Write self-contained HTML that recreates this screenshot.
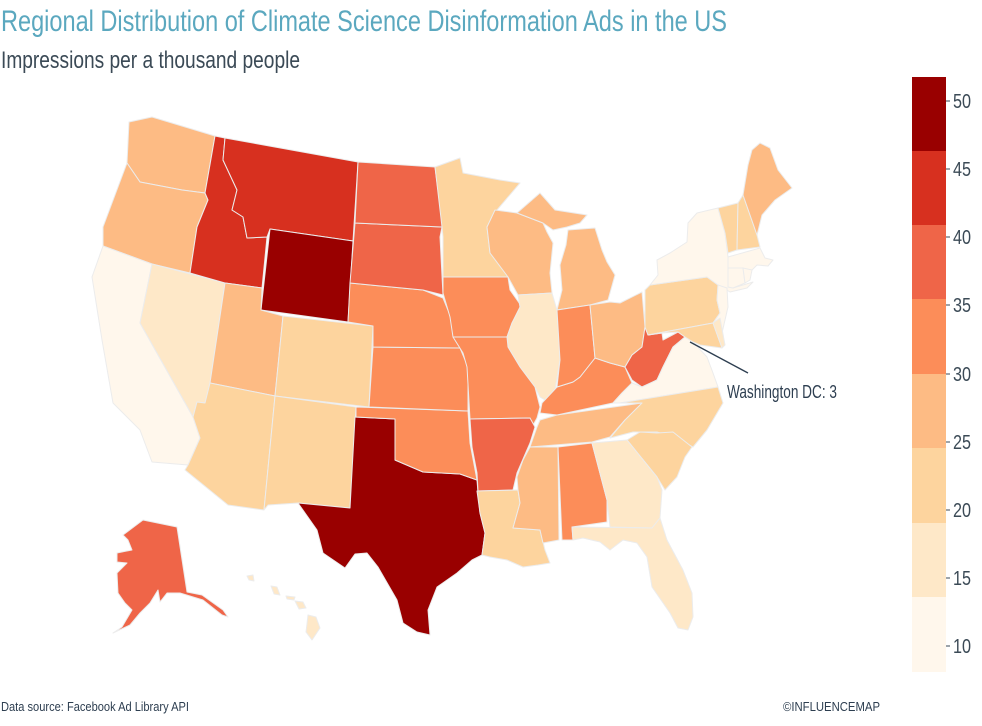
<!DOCTYPE html>
<html><head><meta charset="utf-8"><style>
html,body{margin:0;padding:0;background:#fff;}
svg{display:block;font-family:"Liberation Sans Narrow","Liberation Sans",sans-serif;}
</style></head><body>
<svg width="982" height="726" viewBox="0 0 982 726" xmlns="http://www.w3.org/2000/svg">
<text x="1" y="31" font-size="30" fill="#5ba8bf" textLength="726" lengthAdjust="spacingAndGlyphs">Regional Distribution of Climate Science Disinformation Ads in the US</text>
<text x="1" y="68" font-size="24" fill="#3b4a56" textLength="299" lengthAdjust="spacingAndGlyphs">Impressions per a thousand people</text>

<g stroke="#ececec" stroke-width="1" stroke-linejoin="round">
<polygon fill="#fdbb84" points="129,122 152,117 215,136 205,193 182,190 140,182 127,163"/>
<polygon fill="#fdbb84" points="127,163 140,182 182,190 205,193 208,200 197,227 190,273 152,264 103,246 103,227"/>
<polygon fill="#fff7ec" points="103,246 152,264 140,323 193,417 200,438 188,465 152,462 140,430 113,403 102,340 92,277"/>
<polygon fill="#fee8c8" points="152,264 225,283 210,383 205,403 197,402 193,417 140,323"/>
<polygon fill="#d7301f" points="215,136 225,138 223,160 237,190 232,210 243,217 247,238 267,237 262,288 225,283 190,273 197,227 208,200 205,193"/>
<polygon fill="#d7301f" points="225,138 358,162 353,241 270,229 267,237 247,238 243,217 232,210 237,190 223,160"/>
<polygon fill="#990000" points="270,229 353,241 348,322 261,310"/>
<polygon fill="#fdbb84" points="225,283 262,288 261,310 283,316 275,396 210,383"/>
<polygon fill="#fdd49e" points="283,316 373,326 369,407 275,396"/>
<polygon fill="#fdd49e" points="210,383 275,396 264,510 228,505 185,470 188,465 200,438 193,417 197,402 205,403"/>
<polygon fill="#fdd49e" points="275,396 356,407 350,508 298,503 268,505 264,510"/>
<polygon fill="#990000" points="355,417 395,419 395,460 423,472 460,474 477,480 478,493 480,513 485,533 482,555 472,560 457,573 437,587 428,610 430,635 417,632 403,623 397,600 378,567 367,553 355,554 345,568 323,553 317,530 298,503 350,508"/>
<polygon fill="#fc8d59" points="356,407 468,411 470,443 477,480 460,474 423,472 395,460 395,419 356,417"/>
<polygon fill="#fc8d59" points="373,347 460,348 468,367 468,411 369,407"/>
<polygon fill="#fc8d59" points="350,283 423,290 443,298 452,320 460,348 373,347 373,326 348,322"/>
<polygon fill="#ef6548" points="355,223 442,227 440,237 443,295 423,290 350,283"/>
<polygon fill="#ef6548" points="358,162 435,167 442,220 442,227 355,223"/>
<polygon fill="#fdd49e" points="435,167 460,158 463,173 500,180 520,183 497,210 487,227 490,253 508,272 508,277 443,277 443,237 442,227"/>
<polygon fill="#fdbb84" points="495,210 517,213 543,223 547,232 553,243 550,273 552,293 518,295 508,277 490,253 487,227"/>
<polygon fill="#fdbb84" points="517,213 540,193 555,210 587,215 580,223 567,227 553,230 543,223"/>
<polygon fill="#fdbb84" points="568,230 595,228 602,250 607,262 615,275 608,300 590,305 557,310 562,290 560,265 566,245"/>
<polygon fill="#fc8d59" points="443,277 508,277 510,290 522,307 512,323 507,337 453,337 450,317 443,293"/>
<polygon fill="#fee8c8" points="518,295 552,293 557,310 560,360 555,390 550,403 540,397 535,387 523,373 520,367 508,347 507,337 512,323 520,307"/>
<polygon fill="#fc8d59" points="453,337 507,337 508,347 520,367 535,387 540,407 537,418 532,427 527,427 530,418 470,419 467,367 463,353"/>
<polygon fill="#ef6548" points="470,419 530,418 535,427 530,443 517,473 513,490 478,491 477,473 472,447"/>
<polygon fill="#fdd49e" points="477,491 518,490 520,503 513,528 540,530 545,550 550,563 538,565 523,567 507,560 490,557 482,555 485,533 480,513"/>
<polygon fill="#fdbb84" points="530,447 558,447 559,540 543,543 540,530 513,528 520,503 518,490 517,477 523,460"/>
<polygon fill="#fc8d59" points="558,447 592,443 607,500 607,522 572,527 573,540 562,540"/>
<polygon fill="#fdbb84" points="540,420 557,415 642,403 637,413 625,420 610,437 592,442 530,447 537,427"/>
<polygon fill="#fc8d59" points="542,403 557,387 573,382 580,377 595,358 610,363 625,367 632,383 622,393 613,403 557,415 540,413"/>
<polygon fill="#fc8d59" points="557,310 590,305 595,358 580,377 573,382 557,387 560,360"/>
<polygon fill="#fdbb84" points="590,305 610,302 620,303 642,292 645,327 642,347 632,355 625,367 610,363 595,358"/>
<polygon fill="#ef6548" points="645,327 648,335 662,333 663,340 678,332 685,337 673,347 663,367 657,380 642,387 632,380 625,367 632,355 642,347"/>
<polygon fill="#fff7ec" points="642,387 657,380 663,367 673,347 685,337 693,342 707,357 713,373 718,387 620,403 613,403 622,393 632,383"/>
<polygon fill="#fdd49e" points="620,403 718,387 723,403 707,430 693,447 673,437 657,432 633,432 610,438 625,420 642,403"/>
<polygon fill="#fdd49e" points="627,440 640,432 657,433 673,432 692,447 685,457 677,477 665,490 657,477"/>
<polygon fill="#fee8c8" points="592,443 627,440 657,477 662,490 660,518 652,528 610,527 607,500"/>
<polygon fill="#fee8c8" points="572,527 652,528 660,518 667,540 683,570 692,593 693,617 688,630 678,628 670,613 652,587 647,557 637,543 623,540 610,550 600,542 583,538 573,540"/>
<polygon fill="#fdd49e" points="645,290 650,285 707,277 718,285 717,300 720,313 713,323 648,335 645,327"/>
<polygon fill="#fff7ec" points="650,285 658,275 657,260 670,253 687,242 688,223 697,213 718,208 725,233 728,257 728,287 733,288 753,282 747,288 730,292 718,285 707,277"/>
<polygon fill="#fff7ec" points="718,285 727,288 728,307 725,320 722,333 713,323 720,313 717,300"/>
<polygon fill="#fdd49e" points="648,335 713,323 722,348 700,345 693,342 685,337 678,332 662,333"/>
<polygon fill="#fee8c8" points="713,323 720,318 725,345 722,348"/>
<polygon fill="#fdd49e" points="718,208 738,203 737,250 728,253 725,233"/>
<polygon fill="#fdd49e" points="738,203 743,195 757,235 760,247 737,250"/>
<polygon fill="#fdbb84" points="743,195 748,165 752,150 760,143 770,148 778,170 792,188 775,200 762,215 757,235"/>
<polygon fill="#fff7ec" points="728,257 760,248 765,258 773,260 768,266 757,265 752,270 728,268"/>
<polygon fill="#fff7ec" points="728,268 743,268 745,283 733,288 728,287"/>
<polygon fill="#fff7ec" points="743,268 752,270 750,280 745,283"/>
<polygon fill="#ef6548" points="123,535 143,520 177,527 187,592 202,595 223,610 228,617 222,615 203,600 180,593 167,593 160,602 158,590 150,603 140,613 130,625 113,633 122,627 132,610 125,603 118,593 117,573 127,563 117,562 117,553 132,550 128,540"/>
<g fill="#fee8c8">
<polygon points="247,576 253,575 254,581 249,580"/>
<polygon points="271,586 277,587 280,595 274,594"/>
<polygon points="286,596 295,597 294,600 287,599"/>
<polygon points="295,601 303,602 306,608 299,609"/>
<polygon points="308,615 316,617 320,628 312,640 306,632"/>
</g>
</g>

<line x1="690" y1="342" x2="748" y2="373" stroke="#2d3e50" stroke-width="1.3"/>
<text x="727" y="398" font-size="18" fill="#2d3e50" textLength="110" lengthAdjust="spacingAndGlyphs">Washington DC: 3</text>

<g>
<rect x="912" y="77" width="34" height="75" fill="#990000"/>
<rect x="912" y="151" width="34" height="75" fill="#d7301f"/>
<rect x="912" y="225" width="34" height="75" fill="#ef6548"/>
<rect x="912" y="299" width="34" height="75" fill="#fc8d59"/>
<rect x="912" y="374" width="34" height="75" fill="#fdbb84"/>
<rect x="912" y="448" width="34" height="75" fill="#fdd49e"/>
<rect x="912" y="523" width="34" height="75" fill="#fee8c8"/>
<rect x="912" y="597" width="34" height="75" fill="#fff7ec"/>
</g>
<g stroke="#3b4a56" stroke-width="1">
<line x1="946" y1="101" x2="950" y2="101"/><line x1="946" y1="169" x2="950" y2="169"/>
<line x1="946" y1="237" x2="950" y2="237"/><line x1="946" y1="305" x2="950" y2="305"/>
<line x1="946" y1="374" x2="950" y2="374"/><line x1="946" y1="442" x2="950" y2="442"/>
<line x1="946" y1="510" x2="950" y2="510"/><line x1="946" y1="578" x2="950" y2="578"/>
<line x1="946" y1="646" x2="950" y2="646"/>
</g>
<g font-size="20" fill="#3b4a56">
<text x="953" y="108" textLength="18" lengthAdjust="spacingAndGlyphs">50</text>
<text x="953" y="176" textLength="18" lengthAdjust="spacingAndGlyphs">45</text>
<text x="953" y="244" textLength="18" lengthAdjust="spacingAndGlyphs">40</text>
<text x="953" y="312" textLength="18" lengthAdjust="spacingAndGlyphs">35</text>
<text x="953" y="381" textLength="18" lengthAdjust="spacingAndGlyphs">30</text>
<text x="953" y="449" textLength="18" lengthAdjust="spacingAndGlyphs">25</text>
<text x="953" y="517" textLength="18" lengthAdjust="spacingAndGlyphs">20</text>
<text x="953" y="585" textLength="18" lengthAdjust="spacingAndGlyphs">15</text>
<text x="953" y="653" textLength="18" lengthAdjust="spacingAndGlyphs">10</text>
</g>

<text x="1" y="711" font-size="13" fill="#2d3e50" textLength="188" lengthAdjust="spacingAndGlyphs">Data source: Facebook Ad Library API</text>
<text x="783" y="711" font-size="13" fill="#2d3e50" textLength="97" lengthAdjust="spacingAndGlyphs">©INFLUENCEMAP</text>
</svg>
</body></html>
